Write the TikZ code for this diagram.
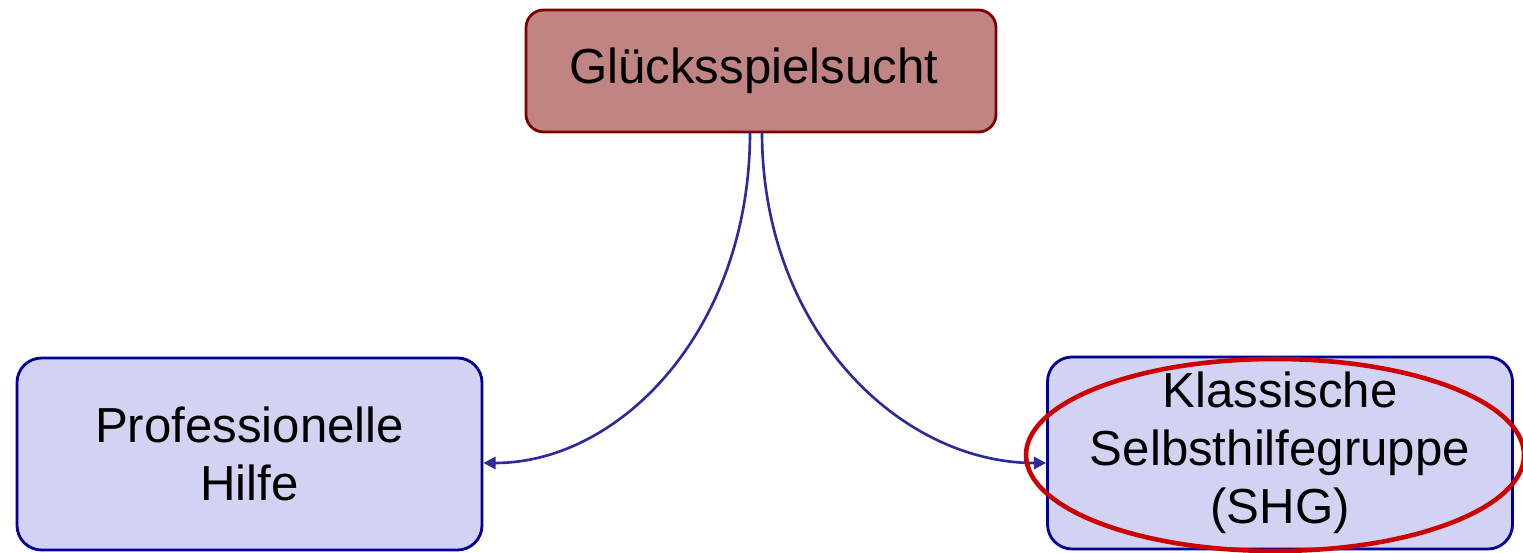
\documentclass[tikz,border=0pt]{standalone}
\usepackage{fontspec}
\setmainfont{Liberation Sans}
\usetikzlibrary{arrows.meta}
\definecolor{topfill}{HTML}{C08483}
\definecolor{topdraw}{HTML}{800000}
\definecolor{boxfill}{HTML}{D2D2F2}
\definecolor{boxdraw}{HTML}{000099}
\definecolor{linecol}{HTML}{2B2B99}
\definecolor{ellred}{HTML}{CC0000}
\begin{document}
\begin{tikzpicture}[x=0.02cm,y=-0.02cm,
  topbox/.style={draw=topdraw,fill=topfill,line width=1.6pt,rounded corners=10pt,minimum width=470*0.02cm,minimum height=122*0.02cm,font=\fontsize{28}{33}\selectfont,align=center},
  bluebox/.style={draw=boxdraw,fill=boxfill,line width=1.6pt,rounded corners=14pt,minimum width=465*0.02cm,minimum height=192*0.02cm,font=\fontsize{28}{33}\selectfont,align=center},
  conn/.style={draw=linecol,line width=1.5pt,-{Triangle[length=7pt,width=7pt]}}]
\useasboundingbox (0,0) rectangle (1523,553);
\node[topbox] (top) at (761,71) {\raisebox{-3pt}{Glücksspielsucht}\hspace{0.3em}};
\node[bluebox] (left) at (249.5,454) {\raisebox{-3pt}{Professionelle}\\\raisebox{-3pt}{Hilfe}};
\node[bluebox] (right) at (1280,453) {Klassische\\Selbsthilfegruppe\\(SHG)};
\coordinate (s1) at (750,132);
\coordinate (s2) at (762,132);
\coordinate (lvl) at (0,463);
\coordinate (e1) at (left.east |- lvl);
\coordinate (e2) at (right.west |- lvl);
\draw[conn] (s1) .. controls (750,330) and (620,463) .. (e1);
\draw[conn] (s2) .. controls (762,330) and (900,463) .. (e2);
\draw[draw=ellred,line width=2.6pt] (1275,455) ellipse [x radius=249, y radius=96];
\end{tikzpicture}
\end{document}
